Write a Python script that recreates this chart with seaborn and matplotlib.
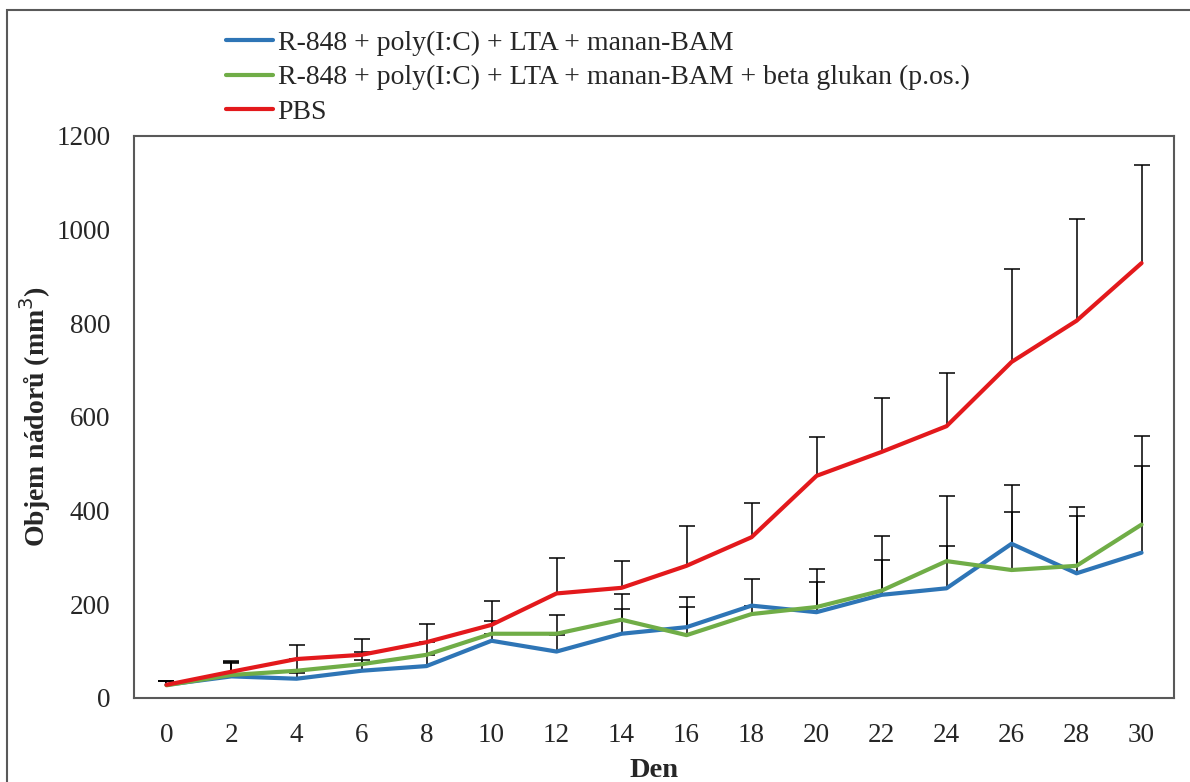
import numpy as np
import pandas as pd
import seaborn as sns
import matplotlib.pyplot as plt
from matplotlib.patches import Rectangle

days = [0, 2, 4, 6, 8, 10, 12, 14, 16, 18, 20, 22, 24, 26, 28, 30]

labels = [
    "R-848 + poly(I:C) + LTA + manan-BAM",
    "R-848 + poly(I:C) + LTA + manan-BAM + beta glukan (p.os.)",
    "PBS",
]

blue_mean = [28, 46, 41, 58, 68, 122, 99, 137, 151, 197, 183, 220, 234, 329, 266, 310]
blue_err = [8, 28, 13, 22, 24, 15, 36, 52, 65, 56, 65, 75, 91, 126, 122, 185]

green_mean = [27, 49, 58, 72, 92, 137, 137, 167, 134, 179, 194, 229, 292, 273, 282, 370]
green_err = [9, 27, 25, 27, 27, 28, 40, 55, 60, 18, 81, 116, 138, 123, 125, 189]

red_mean = [28, 56, 83, 92, 119, 156, 223, 235, 282, 343, 474, 525, 580, 717, 805, 928]
red_err = [8, 22, 30, 34, 39, 50, 75, 57, 84, 73, 83, 116, 114, 199, 218, 210]

colors = ["#2E75B6", "#70AD47", "#E3191C"]

df = pd.concat([
    pd.DataFrame({"den": days, "objem": blue_mean, "err": blue_err, "skupina": labels[0]}),
    pd.DataFrame({"den": days, "objem": green_mean, "err": green_err, "skupina": labels[1]}),
    pd.DataFrame({"den": days, "objem": red_mean, "err": red_err, "skupina": labels[2]}),
])

sns.set_theme(style="white")
plt.rcParams["font.family"] = ["Liberation Serif", "DejaVu Serif"]

fig = plt.figure(figsize=(11.9, 7.82), dpi=100)
ax = fig.add_axes([0.1126, 0.1075, 0.874, 0.719])

# error bars (upper only), drawn under the lines
for name in labels:
    sub = df[df["skupina"] == name]
    eb = ax.errorbar(sub["den"], sub["objem"], yerr=[np.zeros(len(sub)), sub["err"]],
                     fmt="none", ecolor="black", elinewidth=1.1, capsize=6,
                     capthick=1.1, zorder=1)
    # drop the lower caps
    eb[1][0].set_visible(False)

sns.lineplot(data=df, x="den", y="objem", hue="skupina", hue_order=labels,
             palette=colors, linewidth=3, ax=ax, zorder=2)

ax.set_xlim(-1, 31)
ax.set_ylim(0, 1200)
ax.set_xticks(days)
ax.set_yticks(range(0, 1201, 200))
ax.tick_params(axis="both", labelsize=19.5, length=0)
ax.tick_params(axis="x", pad=18)
ax.tick_params(axis="y", pad=17)

ax.set_xlabel("Den", fontsize=20.5, fontweight="bold", labelpad=7)
ax.set_ylabel("Objem nádorů (mm$^3$)", fontsize=20, fontweight="bold", labelpad=2)

for s in ax.spines.values():
    s.set_color("#595959")
    s.set_linewidth(1.5)

leg = ax.legend(loc="lower left", bbox_to_anchor=(0.078, 1.0), frameon=False,
                fontsize=20, handlelength=1.7, handletextpad=0.15,
                labelspacing=0.32, borderaxespad=0.0)
for line in leg.get_lines():
    line.set_linewidth(3)

# outer chart border
fig.patches.append(Rectangle((0.006, -0.02), 1.1, 1.007, transform=fig.transFigure,
                             fill=False, edgecolor="#595959", linewidth=1.5))

fig.savefig("out.png", dpi=100)
